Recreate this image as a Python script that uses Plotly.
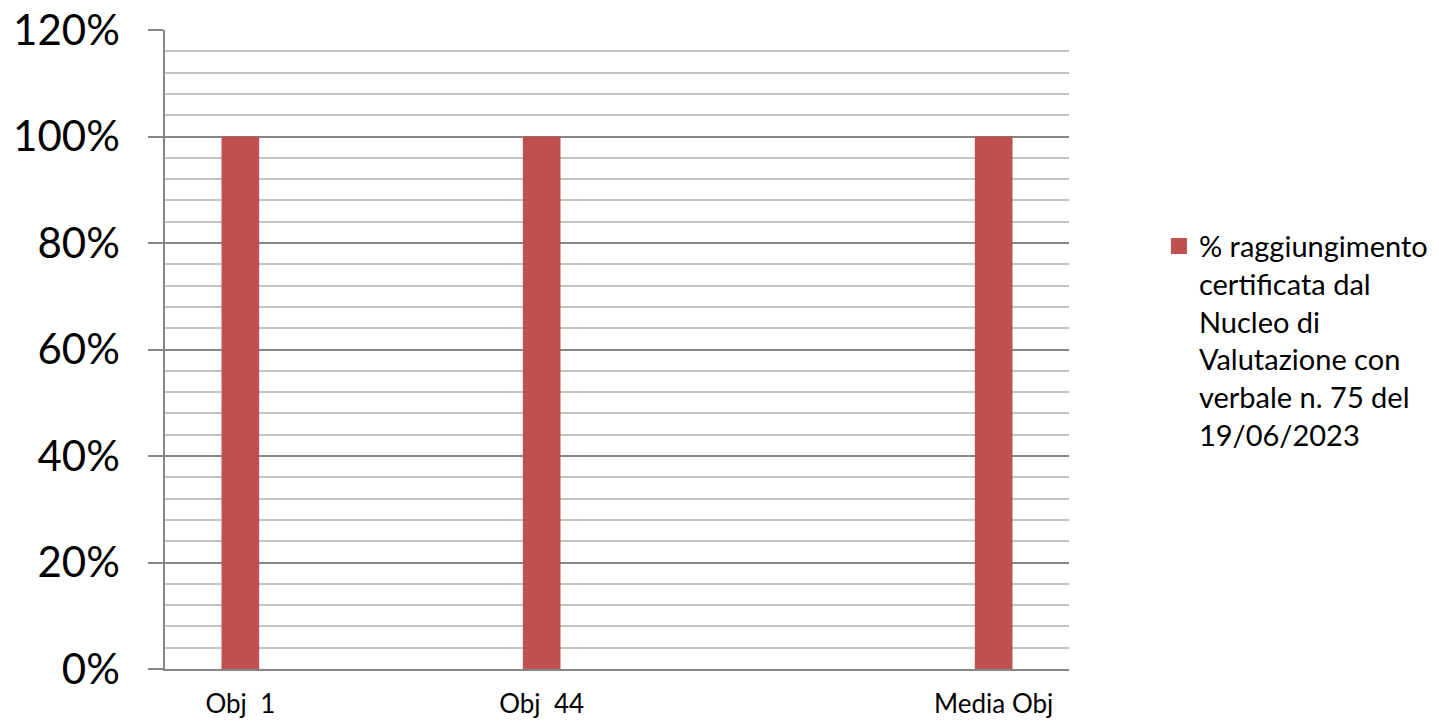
import plotly.graph_objects as go

categories = ["Obj\u00a0\u00a01", "\u00a0", "Obj\u00a0\u00a044", "\u00a0\u00a0", "\u00a0\u00a0\u00a0", "Media Obj"]
values = [1.0, None, 1.0, None, None, 1.0]
series_name = "% raggiungimento<br>certificata dal<br>Nucleo di<br>Valutazione con<br>verbale n. 75 del<br>19/06/2023"
y_ticks = [0, 0.2, 0.4, 0.6, 0.8, 1.0, 1.2]
y_labels = ["0%", "20%", "40%", "60%", "80%", "100%", "120%"]

FONT = "Lato, 'Open Sans', sans-serif"
BAR_COLOR = "#C0504D"

fig = go.Figure()
fig.add_trace(go.Bar(
    x=categories, y=values, name=series_name,
    marker=dict(color=BAR_COLOR, line=dict(width=0)),
    showlegend=False,
))
# legend entry (larger square symbol like the reference)
fig.add_trace(go.Scatter(
    x=[None], y=[None], mode="markers", name=series_name,
    marker=dict(symbol="square", size=17, color=BAR_COLOR),
    showlegend=True,
))

fig.update_layout(
    width=1439, height=721,
    margin=dict(l=157, r=378, t=22, b=60, autoexpand=False),
    paper_bgcolor="white", plot_bgcolor="white",
    bargap=0.75,
    font=dict(family=FONT, color="black"),
    showlegend=True,
    legend=dict(
        x=1.0995, xanchor="left", xref="paper",
        y=0.514, yanchor="middle",
        font=dict(size=29, family=FONT, color="black"),
        valign="top",
        itemsizing="trace",
        bgcolor="rgba(0,0,0,0)",
    ),
    xaxis=dict(
        type="category",
        categoryorder="array", categoryarray=categories,
        showgrid=False,
        showline=True, linecolor="#868686", linewidth=2,
        ticks="", ticklabelstandoff=11,
        tickfont=dict(size=26, family=FONT, color="black"),
        automargin=False,
        fixedrange=True,
    ),
    yaxis=dict(
        range=[0, 1.2],
        tickvals=y_ticks, ticktext=y_labels,
        tickfont=dict(size=42, family=FONT, color="black"),
        ticklabeloverflow="allow",
        showgrid=True, gridcolor="#868686", gridwidth=1.5,
        showline=True, linecolor="#868686", linewidth=1.5,
        ticks="outside", ticklen=15, tickcolor="#868686", tickwidth=1.5,
        ticklabelstandoff=20,
        zeroline=False,
        minor=dict(dtick=0.04, showgrid=True, gridcolor="#c4c4c4", gridwidth=1.5, ticks=""),
        automargin=False,
        fixedrange=True,
    ),
)

fig.write_html("out.html")
